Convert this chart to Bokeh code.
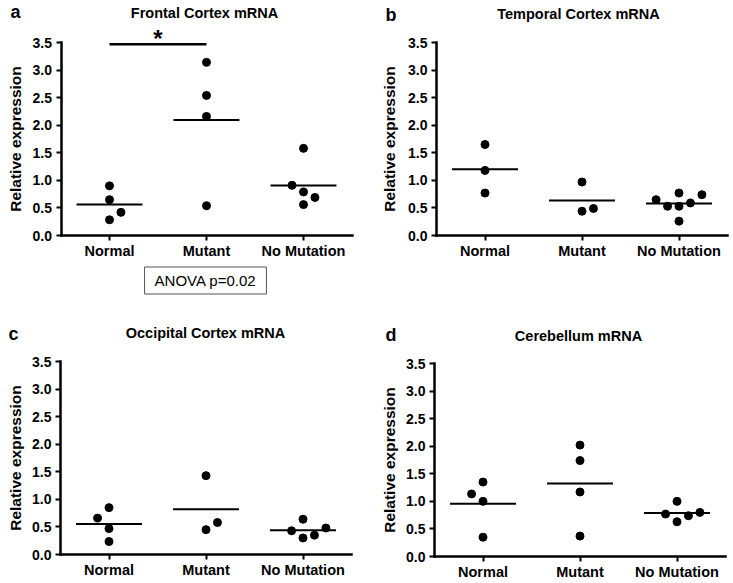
import math
import numpy as np
from bokeh.plotting import figure
from bokeh.models import Range1d, FixedTicker, PrintfTickFormatter, Label
from bokeh.layouts import column, row
from bokeh.embed import file_html
from bokeh.resources import INLINE
from bokeh.core.properties import value

# ---------------- data ----------------
categories = ["Normal", "Mutant", "No Mutation"]
y_ticks = [0.0, 0.5, 1.0, 1.5, 2.0, 2.5, 3.0, 3.5]
y_label = "Relative expression"

# a: Frontal Cortex
a_title = "Frontal Cortex mRNA"
a_normal = [0.90, 0.65, 0.42, 0.285]
a_mutant = [3.14, 2.54, 2.16, 0.54]
a_nomut = [1.58, 0.91, 0.79, 0.69, 0.56]
a_normal_col = [0, 0, 1, 0]
a_mutant_col = [0, 0, 0, 0]
a_nomut_col = [0, -1, 0, 1, 0]
a_sig_pair = ("Normal", "Mutant")
a_sig_y = 3.47
a_sig_text = "*"
a_note = "ANOVA p=0.02"

# b: Temporal Cortex
b_title = "Temporal Cortex mRNA"
b_normal = [1.65, 1.18, 0.77]
b_mutant = [0.97, 0.44, 0.49]
b_nomut = [0.65, 0.53, 0.77, 0.53, 0.26, 0.59, 0.74]
b_normal_col = [0, 0, 0]
b_mutant_col = [0, 0, 1]
b_nomut_col = [-2, -1, 0, 0, 0, 1, 2]

# c: Occipital Cortex
c_title = "Occipital Cortex mRNA"
c_normal = [0.85, 0.66, 0.47, 0.235]
c_mutant = [1.43, 0.45, 0.58]
c_nomut = [0.64, 0.43, 0.30, 0.35, 0.48]
c_normal_col = [0, -1, 0, 0]
c_mutant_col = [0, 0, 1]
c_nomut_col = [0, -1, 0, 1, 2]

# d: Cerebellum
d_title = "Cerebellum mRNA"
d_normal = [1.35, 1.135, 1.00, 0.35]
d_mutant = [2.02, 1.74, 1.17, 0.37]
d_nomut = [1.00, 0.77, 0.63, 0.74, 0.80]
d_normal_col = [0, -1, 0, 0]
d_mutant_col = [0, 0, 0, 0]
d_nomut_col = [0, -1, 0, 1, 2]

# ---------------- styling ----------------
FONT = "Liberation Sans"
PX = 193 / 3.5      # pixels per y unit
UX = 97.0           # pixels per category step
JIT = 0.118         # horizontal step between side-by-side dots (x units)
HALF = 0.34         # half width of mean line (x units)


def make_panel(letter, title, groups, W, H, ax_x, ax_y,
               title_pos, letter_pos, ylabel_x):
    x0 = 0.5 - ax_x / UX
    y1 = ax_y / PX
    p = figure(frame_width=W, frame_height=H,
               min_border_left=0, min_border_right=0,
               min_border_top=0, min_border_bottom=0,
               x_range=Range1d(x0, x0 + W / UX),
               y_range=Range1d(y1 - H / PX, y1),
               output_backend="svg", toolbar_location=None, tools="")
    p.outline_line_color = None
    p.grid.visible = False
    p.background_fill_color = "white"
    p.border_fill_color = "white"

    xs, ys = [], []
    for i, (vals, cols) in enumerate(groups):
        for v, c in zip(vals, cols):
            xs.append(i + 1 + c * JIT)
            ys.append(v)
        m = float(np.mean(vals))
        p.segment(x0=[i + 1 - HALF], y0=[m], x1=[i + 1 + HALF], y1=[m],
                  line_color="black", line_width=2)
    p.scatter(xs, ys, size=8, color="black", line_color="black")

    for ax in (p.xaxis[0], p.yaxis[0]):
        ax.axis_line_width = 2.5
        ax.axis_line_color = "black"
        ax.axis_line_cap = "square"
        ax.major_tick_line_width = 2
        ax.major_tick_line_color = "black"
        ax.major_tick_in = 0
        ax.major_tick_out = 5
        ax.minor_tick_line_color = None
        ax.major_label_text_font = FONT
        ax.major_label_text_font_style = "bold"
        ax.major_label_text_color = "black"

    p.xaxis.fixed_location = 0
    p.xaxis.ticker = FixedTicker(ticks=[1, 2, 3])
    p.xaxis.major_label_overrides = {i + 1: c for i, c in enumerate(categories)}
    p.xaxis.bounds = (0.5, 3.5)
    p.xaxis.major_label_standoff = 2
    p.xaxis.major_label_text_font_size = "14.5px"

    p.yaxis.fixed_location = 0.5
    p.yaxis.ticker = FixedTicker(ticks=y_ticks)
    p.yaxis.formatter = PrintfTickFormatter(format="%.1f")
    p.yaxis.bounds = (y_ticks[0], y_ticks[-1])
    p.yaxis.major_label_standoff = 4
    p.yaxis.major_label_text_font_size = "14px"

    p.add_layout(Label(x=ylabel_x, y=(y_ticks[0] + y_ticks[-1]) / 2,
                       x_units="screen", y_units="data", angle=math.pi / 2,
                       text=y_label, text_font=FONT, text_font_style="bold",
                       text_font_size="15.5px", text_align="center",
                       text_baseline="middle", text_color="black"))
    p.add_layout(Label(x=title_pos[0], y=title_pos[1], x_units="screen", y_units="screen",
                       text=title, text_font=FONT, text_font_style="bold",
                       text_font_size="14.5px", text_align="center",
                       text_baseline="middle", text_color="black"))
    p.add_layout(Label(x=letter_pos[0], y=letter_pos[1], x_units="screen", y_units="screen",
                       text=letter, text_font=FONT, text_font_style="bold",
                       text_font_size="18px", text_align="left",
                       text_baseline="middle", text_color="black"))
    return p


pa = make_panel("a", a_title,
                [(a_normal, a_normal_col), (a_mutant, a_mutant_col), (a_nomut, a_nomut_col)],
                363, 296, 60.5, 235, (204, 283.5), (10, 284.5), 14.5)
i0 = categories.index(a_sig_pair[0]) + 1
i1 = categories.index(a_sig_pair[1]) + 1
pa.segment(x0=[i0], y0=[a_sig_y], x1=[i1], y1=[a_sig_y], line_color="black", line_width=2.5)
pa.text(x=[(i0 + i1) / 2], y=[a_sig_y], text=[a_sig_text], text_font=value(FONT),
        text_font_style="bold", text_font_size="24px", text_align="center",
        text_baseline="middle", y_offset=-6, text_color="black")
pa.add_layout(Label(x=205, y=16, x_units="screen", y_units="screen", text=a_note,
                    text_font=FONT, text_font_size="15px", text_align="center",
                    text_baseline="middle", text_color="black",
                    border_line_color="#555555", border_line_width=1,
                    background_fill_color="white", padding=(10, 5)))

pb = make_panel("b", b_title,
                [(b_normal, b_normal_col), (b_mutant, b_mutant_col), (b_nomut, b_nomut_col)],
                370, 296, 73, 235, (215, 283), (22, 282), 26)

pc = make_panel("c", c_title,
                [(c_normal, c_normal_col), (c_mutant, c_mutant_col), (c_nomut, c_nomut_col)],
                363, 287, 60, 258, (205, 251), (8, 249.8), 14.5)

pd = make_panel("d", d_title,
                [(d_normal, d_normal_col), (d_mutant, d_mutant_col), (d_nomut, d_nomut_col)],
                370, 287, 71, 260, (215, 248), (22, 249), 26)

layout = column(row(pa, pb), row(pc, pd))
open("out.html", "w").write(file_html(layout, INLINE))
